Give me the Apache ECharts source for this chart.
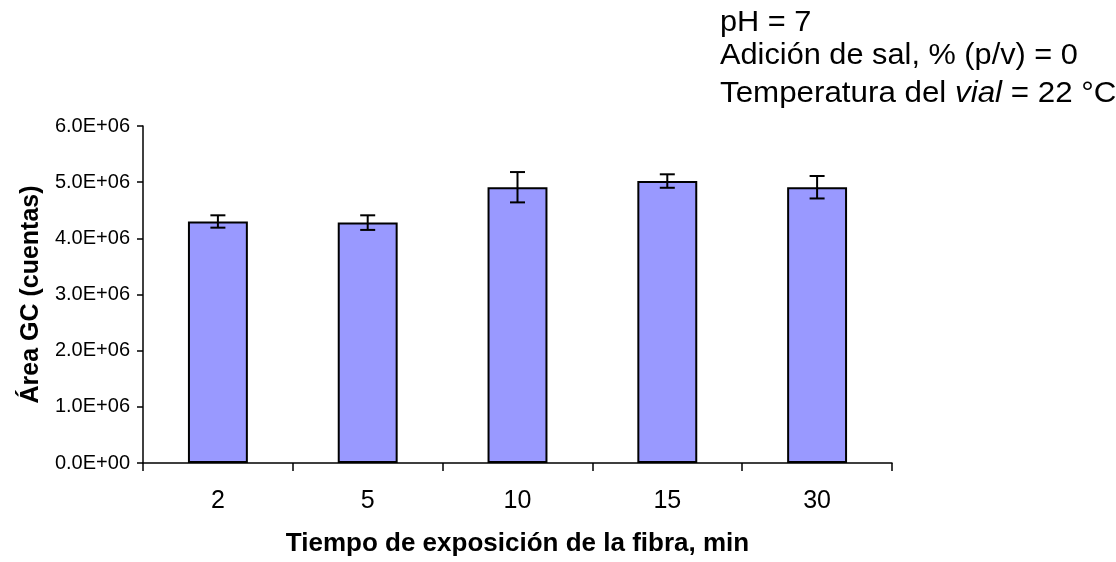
<!DOCTYPE html>
<html>
<head>
<meta charset="utf-8">
<script src="https://cdn.jsdelivr.net/npm/echarts@6/dist/echarts.min.js"></script>
<style>
html,body{margin:0;padding:0;background:#fff;}
#chart{width:1116px;height:562px;}
</style>
</head>
<body>
<div id="chart"></div>
<script>
const categories = ['2', '5', '10', '15', '30'];
const areaValues = [4.30e6, 4.28e6, 4.91e6, 5.02e6, 4.91e6];
const errorValues = [0.11e6, 0.13e6, 0.27e6, 0.12e6, 0.20e6];
const yTicks = { min: 0, max: 6e6, interval: 1e6 };

function fmtE(v) {
  if (v === 0) return '0.0E+00';
  const e = Math.floor(Math.log10(Math.abs(v)));
  const m = v / Math.pow(10, e);
  const es = (e < 0 ? '-' : '+') + String(Math.abs(e)).padStart(2, '0');
  return m.toFixed(1) + 'E' + es;
}

const chart = echarts.init(document.getElementById('chart'));
const font = '"Liberation Sans", Arial, sans-serif';

const errData = categories.map((c, i) => [i, areaValues[i] - errorValues[i], areaValues[i] + errorValues[i]]);

const annFont = 29;
const annScale = 1.06;

chart.setOption({
  animation: false,
  backgroundColor: '#fff',
  grid: { left: 143, right: 224, top: 126, bottom: 99 },
  xAxis: {
    type: 'category',
    data: categories,
    axisLine: { lineStyle: { color: '#000', width: 1.5 } },
    axisTick: { show: true, length: 8, lineStyle: { color: '#000', width: 1.5 } },
    axisLabel: { color: '#000', fontSize: 25, fontFamily: font, margin: 26 },
    name: 'Tiempo de exposición de la fibra, min',
    nameLocation: 'middle',
    nameGap: 68,
    nameTextStyle: { color: '#000', fontSize: 26, fontWeight: 'bold', fontFamily: font }
  },
  yAxis: {
    type: 'value',
    min: yTicks.min, max: yTicks.max, interval: yTicks.interval,
    axisLine: { show: true, lineStyle: { color: '#000', width: 1.5 } },
    axisTick: { show: true, length: 6, lineStyle: { color: '#000', width: 1.5 } },
    splitLine: { show: false },
    axisLabel: { color: '#000', fontSize: 20, fontFamily: font, margin: 13, formatter: fmtE },
    name: 'Área GC (cuentas)',
    nameLocation: 'middle',
    nameGap: 97,
    nameTextStyle: { color: '#000', fontSize: 25, fontWeight: 'bold', fontFamily: font }
  },
  series: [
    {
      type: 'bar',
      data: areaValues,
      barWidth: '40%',
      itemStyle: { color: '#9999FF', borderColor: '#000', borderWidth: 2 }
    },
    {
      type: 'custom',
      data: errData,
      z: 10,
      renderItem: function (params, api) {
        const x = api.value(0);
        const lo = api.coord([x, api.value(1)]);
        const hi = api.coord([x, api.value(2)]);
        const hw = 7.5;
        const st = { stroke: '#000', lineWidth: 2 };
        return {
          type: 'group',
          children: [
            { type: 'line', shape: { x1: lo[0], y1: lo[1], x2: hi[0], y2: hi[1] }, style: st },
            { type: 'line', shape: { x1: lo[0] - hw, y1: lo[1], x2: lo[0] + hw, y2: lo[1] }, style: st },
            { type: 'line', shape: { x1: hi[0] - hw, y1: hi[1], x2: hi[0] + hw, y2: hi[1] }, style: st }
          ]
        };
      }
    }
  ],
  graphic: [
    { type: 'text', x: 720, y: 8, scaleX: annScale, style: { text: 'pH = 7', fontSize: annFont, fontFamily: font, fill: '#000' } },
    { type: 'text', x: 720, y: 41, scaleX: annScale, style: { text: 'Adición de sal, % (p/v) = 0', fontSize: annFont, fontFamily: font, fill: '#000' } },
    { type: 'text', x: 720, y: 79, scaleX: 1.08, style: {
        text: '{n|Temperatura del }{i|vial}{n| = 22 °C}',
        rich: {
          n: { fontSize: annFont, fontFamily: font, fill: '#000' },
          i: { fontSize: annFont, fontFamily: font, fontStyle: 'italic', fill: '#000' }
        }
      } }
  ]
});
</script>
</body>
</html>
